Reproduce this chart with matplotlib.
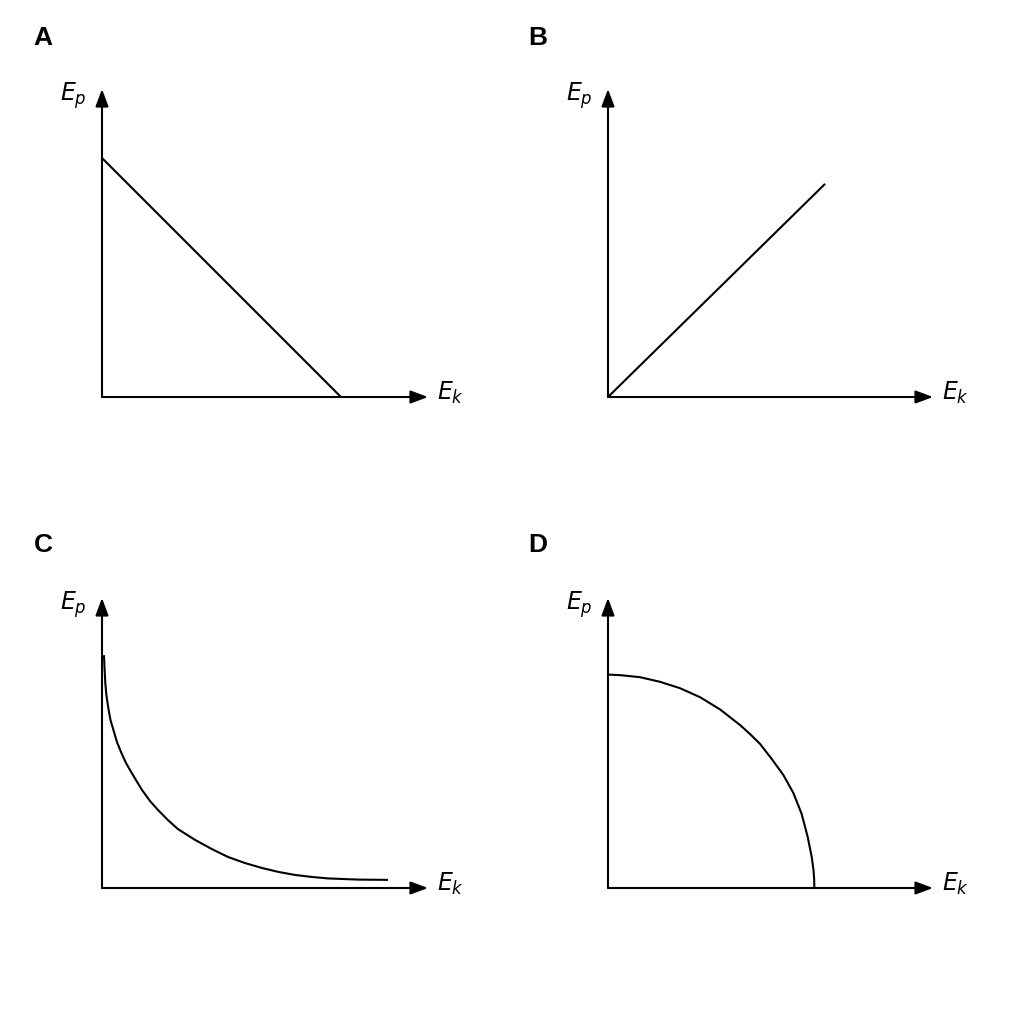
import matplotlib
matplotlib.use("Agg")
import matplotlib.pyplot as plt

plt.rcParams['mathtext.fontset'] = 'dejavusans'
plt.rcParams['font.family'] = ['Liberation Sans', 'DejaVu Sans']

# ---- data (axis units 0..10 in each panel) ----
panel_letters = ["A", "B", "C", "D"]
y_label = r"$E_p$"
x_label = r"$E_k$"

a_x = [0.0, 7.33]
a_y = [7.76, 0.0]

b_x = [0.0, 6.68]
b_y = [0.0, 6.92]

c_x = [0.061, 0.077, 0.101, 0.138, 0.193, 0.261, 0.368, 0.460, 0.583, 0.736,
       0.859, 1.043, 1.227, 1.472, 1.718, 2.025, 2.331, 2.853, 3.374, 3.865,
       4.387, 4.908, 5.429, 5.920, 6.442, 6.933, 7.853, 8.773]
c_y = [8.03, 7.59, 7.07, 6.62, 6.21, 5.79, 5.38, 5.03, 4.69, 4.31,
       4.07, 3.72, 3.38, 3.00, 2.69, 2.34, 2.03, 1.66, 1.34, 1.07,
       0.86, 0.69, 0.55, 0.45, 0.38, 0.33, 0.29, 0.28]

d_x = [0.0, 0.369, 0.985, 1.600, 2.215, 2.831, 3.446, 4.062, 4.369, 4.677,
       5.037, 5.394, 5.702, 5.960, 6.145, 6.268, 6.323, 6.345, 6.348]
d_y = [7.36, 7.34, 7.27, 7.11, 6.89, 6.58, 6.16, 5.62, 5.31, 4.97,
       4.45, 3.90, 3.28, 2.55, 1.76, 1.07, 0.62, 0.28, 0.0]

series = [(a_x, a_y), (b_x, b_y), (c_x, c_y), (d_x, d_y)]

# ---- layout (pixels) ----
W = 1024.0
# (origin_x, origin_y, x_len, y_len)
boxes = [(102, 397, 326, 308), (608, 397, 325, 308),
         (102, 888, 326, 290), (608, 888, 325, 290)]
letter_pos = [(43, 38), (538, 38), (43, 545), (538, 545)]

fig = plt.figure(figsize=(10.24, 10.24), dpi=100)
fig.patch.set_facecolor("white")

lw = 1.5
for i, ((ox, oy, xl, yl), (sx, sy)) in enumerate(zip(boxes, series)):
    ax = fig.add_axes([ox / W, 1 - oy / W, xl / W, yl / W])
    ax.set_xlim(0, 10)
    ax.set_ylim(0, 10)
    ax.axis("off")
    arrow = dict(arrowstyle="-|>,head_length=0.75,head_width=0.28",
                 color="black", lw=lw, shrinkA=0, shrinkB=0, mutation_scale=14)
    ax.annotate("", xy=(10, 0), xytext=(0, 0), arrowprops=arrow, annotation_clip=False)
    ax.annotate("", xy=(0, 10), xytext=(0, 0), arrowprops=arrow, annotation_clip=False)
    ax.plot(sx, sy, color="black", lw=lw, clip_on=False,
            solid_capstyle="butt", solid_joinstyle="round")

    fig.text((ox - 42) / W, 1 - (oy - yl + 12) / W, y_label, fontsize=17,
             ha="left", va="baseline", color="black")
    fig.text((ox + xl + 9) / W, 1 - (oy + 3) / W, x_label, fontsize=17,
             ha="left", va="baseline", color="black")
    lx, ly = letter_pos[i]
    fig.text(lx / W, 1 - ly / W, panel_letters[i], fontsize=19, fontweight="bold",
             ha="center", va="center", color="black")

fig.savefig("out.png", dpi=100, facecolor="white")
